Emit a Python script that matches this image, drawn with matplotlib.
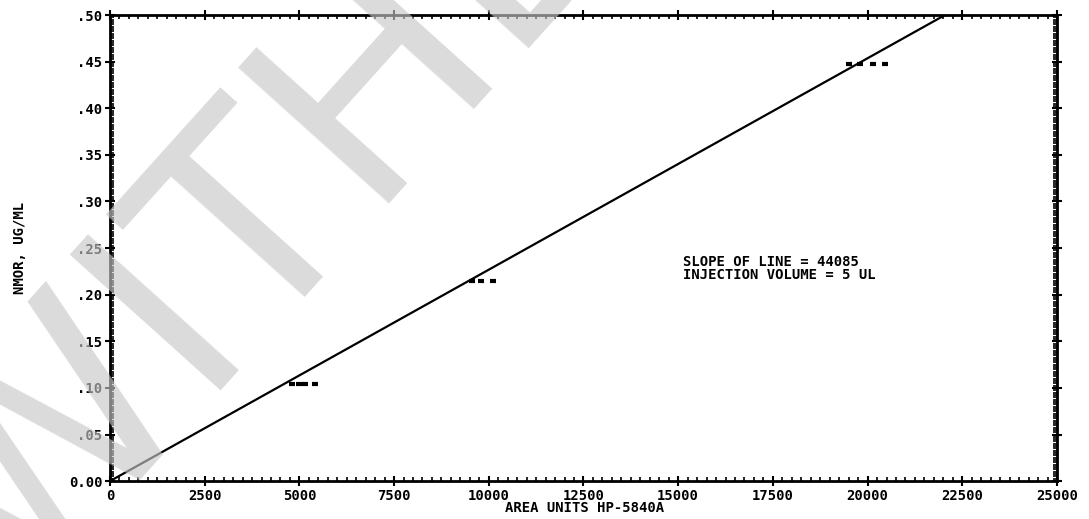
import matplotlib
matplotlib.use("Agg")
import matplotlib.pyplot as plt
from matplotlib.ticker import MultipleLocator
import numpy as np

# calibration data: replicate peak areas read at each standard concentration
conc_levels = [0.104, 0.215, 0.447]
area_reps = [
    [4800, 5000, 5150, 5400],
    [9550, 9800, 10100],
    [19500, 19800, 20150, 20450],
]
slope = 44085
conc_range = [0.0, 0.5]

x_ticks = [0, 2500, 5000, 7500, 10000, 12500, 15000, 17500, 20000, 22500, 25000]
y_ticks = [0, .05, .10, .15, .20, .25, .30, .35, .40, .45, .50]
y_labels = ['0.00', '.05', '.10', '.15', '.20', '.25', '.30', '.35', '.40', '.45', '.50']

font = dict(family='DejaVu Sans Mono', weight='bold', size=10)

fig = plt.figure(figsize=(10.89, 5.19), dpi=100)
ax = fig.add_axes([0.101, 0.073, 0.8696, 0.898])

# fitted line
line_x = [c * slope for c in conc_range]
ax.plot(line_x, conc_range, color='black', lw=1.6)

# replicate points
for c, reps in zip(conc_levels, area_reps):
    ax.plot(reps, [c] * len(reps), ls='none', marker='_', ms=5, mew=3, color='black')

ax.set_xlim(0, 25000)
ax.set_ylim(0, 0.5)
ax.set_xticks(x_ticks)
ax.set_xticklabels([str(t) for t in x_ticks], **font)
ax.set_yticks(y_ticks)
ax.set_yticklabels(y_labels, **font)
ax.xaxis.set_minor_locator(MultipleLocator(250))
ax.yaxis.set_minor_locator(MultipleLocator(0.0025))
ax.tick_params(which='major', direction='inout', length=7, width=1.5,
               top=True, right=True, pad=2)
ax.tick_params(which='minor', direction='in', length=3, width=1.2,
               top=True, right=True)
for s in ax.spines.values():
    s.set_linewidth(2)

ax.set_ylabel('NMOR, UG/ML', labelpad=30, **font)
fig.text(0.537, 0.008, 'AREA UNITS HP-5840A', ha='center', va='bottom', **font)

ax.text(15130, 0.228, 'SLOPE OF LINE = 44085\nINJECTION VOLUME = 5 UL',
        va='center', ha='left', linespacing=0.9, **font)

# watermark stamped over the scan
fig.text(0.015, -0.17, 'WITHDRAWN', fontsize=200, family='DejaVu Sans',
         weight='normal', color='0.78', alpha=0.64, rotation=48,
         rotation_mode='anchor', ha='left', va='baseline', zorder=10)

fig.savefig('out.png', dpi=100)
